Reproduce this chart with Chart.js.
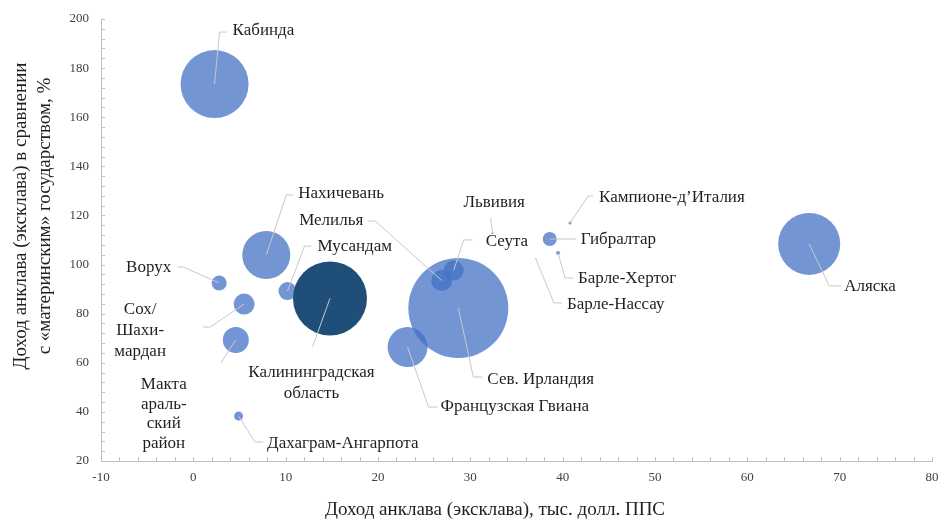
<html>
<head>
  <meta charset="utf-8">
  <title>Доход анклавов</title>
  <script src="https://cdn.jsdelivr.net/npm/chart.js@4.4.1/dist/chart.umd.min.js"></script>
  <style>
    body { margin: 0; background: #fff; }
    #chart { display: block; }
  </style>
</head>
<body>
  <canvas id="chart" width="940" height="521"></canvas>
  <script>
    // data
    const names = ["Кабинда", "Нахичевань", "Ворух", "Сох/Шахимардан", "Мактааральский район", "Мусандам",
      "Калининградская область", "Сев. Ирландия", "Мелилья", "Сеута", "Французская Гвиана", "Гибралтар",
      "Кампионе-д’Италия", "Барле-Хертог", "Барле-Нассау", "Львивия", "Аляска", "Дахаграм-Ангарпота"];
    const income = [2.3, 7.9, 2.8, 5.5, 4.6, 10.2, 14.8, 28.7, 26.9, 28.2, 23.2, 38.6, 40.8, 39.5, 37.1, 32.4, 66.7, 4.9];
    const ratio = [173.5, 103.9, 92.5, 83.9, 69.3, 89.2, 86.2, 82.3, 93.5, 97.6, 66.4, 110.4, 116.9, 104.7, 102.3, 112.9, 108.4, 38.3];
    const bubbleR = [34, 24, 7.5, 10.5, 13, 9, 37, 50, 10.5, 10, 20, 7, 1.5, 2, 0.6, 1, 31, 4.5];
    const xTicks = [-10, 0, 10, 20, 30, 40, 50, 60, 70, 80];
    const yTicks = [20, 40, 60, 80, 100, 120, 140, 160, 180, 200];

    // label layout (pixels from bubble centre): text lines, align, text x/y, leader elbow, leader end x
    const labelText = [["Кабинда"], ["Нахичевань"], ["Ворух"], ["Сох/", "Шахи-", "мардан"], ["Макта", "араль-", "ский", "район"],
      ["Мусандам"], ["Калининградская", "область"], ["Сев. Ирландия"], ["Мелилья"], ["Сеута"], ["Французская Гвиана"],
      ["Гибралтар"], ["Кампионе-д’Италия"], ["Барле-Хертог"], ["Барле-Нассау"], ["Львивия"], ["Аляска"], ["Дахаграм-Ангарпота"]];
    const labelAlign = ["left", "left", "right", "center", "center", "left", "center", "left", "right", "left", "left",
      "left", "left", "left", "left", "left", "left", "left"];
    const labelPos = [[18, -54], [32, -61], [-48, -15], [-104, 5], [-72, 45], [30, -45], [-18.5, 74.5], [29, 72], [-78.5, -59.5],
      [32, -28.5], [33, 59], [31, 1], [29, -26], [20, 26], [31, 46], [-29, -30], [35, 43], [28.5, 27]];
    const elbow = [[5, -52], [20, -60], [-36, -16], [-34, 23], [-15, 23], [17, -45], [-17.5, 48.5], [15, 69], [-66.5, -59.5],
      [10, -30.5], [21, 60], [0, 0], [18, -27], [7, 25], [18, 44], [-2, -15], [20, 42], [16.5, 26]];
    const leaderEnd = [12, 27, -42, -41, -15, 24, -17.5, 24, -73.5, 19, 30, 26, 23, 15, 26, -2, 32, 24.5];

    const lightBlue = "rgba(68, 114, 196, 0.75)";
    const darkBlue = "rgb(31, 78, 121)";
    const serif = "'Liberation Serif', 'DejaVu Serif', serif";

    const points = income.map((x, i) => ({ x: x, y: ratio[i], r: bubbleR[i] }));
    const colors = names.map(n => n === "Калининградская область" ? darkBlue : lightBlue);

    // leader lines, labels, minor ticks, axis titles
    const annotate = {
      id: "annotate",
      afterDatasetsDraw(chart) {
        const ctx = chart.ctx;
        const xs = chart.scales.x, ys = chart.scales.y;
        ctx.save();
        ctx.strokeStyle = "#C8C8C8";
        ctx.lineWidth = 1;
        for (let i = 0; i < points.length; i++) {
          const px = xs.getPixelForValue(points[i].x);
          const py = ys.getPixelForValue(points[i].y);
          ctx.beginPath();
          ctx.moveTo(px, py);
          ctx.lineTo(px + elbow[i][0], py + elbow[i][1]);
          ctx.lineTo(px + leaderEnd[i], py + elbow[i][1]);
          ctx.stroke();
        }
        ctx.fillStyle = "#1f1f1f";
        ctx.font = "17px " + serif;
        ctx.textBaseline = "middle";
        for (let i = 0; i < points.length; i++) {
          const px = xs.getPixelForValue(points[i].x);
          const py = ys.getPixelForValue(points[i].y);
          ctx.textAlign = labelAlign[i];
          const lh = labelText[i].length > 3 ? 19.5 : 21;
          labelText[i].forEach((t, k) => {
            ctx.fillText(t, px + labelPos[i][0], py + labelPos[i][1] + k * lh);
          });
        }
        ctx.restore();
      },
      afterDraw(chart) {
        const ctx = chart.ctx;
        const xs = chart.scales.x, ys = chart.scales.y;
        const a = chart.chartArea;
        ctx.save();
        ctx.strokeStyle = "#BFBFBF";
        ctx.lineWidth = 1;
        ctx.beginPath();
        for (let v = 20; v <= 200; v += 4) {
          const y = Math.round(ys.getPixelForValue(v)) + 0.5;
          ctx.moveTo(a.left, y);
          ctx.lineTo(a.left + 4, y);
        }
        for (let v = -10; v <= 80; v += 2) {
          const x = Math.round(xs.getPixelForValue(v)) + 0.5;
          ctx.moveTo(x, a.bottom);
          ctx.lineTo(x, a.bottom - 4);
        }
        ctx.stroke();

        ctx.fillStyle = "#1f1f1f";
        ctx.font = "19px " + serif;
        ctx.textAlign = "center";
        ctx.textBaseline = "middle";
        ctx.fillText("Доход анклава (эксклава), тыс. долл. ППС", 495, 510);
        ctx.translate(33, 216);
        ctx.rotate(-Math.PI / 2);
        ctx.fillText("Доход анклава (эксклава) в сравнении", 0, -12);
        ctx.fillText("с «материнским» государством, %", 0, 12);
        ctx.restore();
      }
    };

    new Chart(document.getElementById("chart").getContext("2d"), {
      type: "bubble",
      data: {
        datasets: [{
          label: "Анклавы",
          data: points,
          backgroundColor: colors,
          borderWidth: 0,
          hoverBorderWidth: 0
        }]
      },
      options: {
        responsive: false,
        animation: false,
        devicePixelRatio: 1,
        layout: { autoPadding: false, padding: { top: 19, right: 8, left: 0, bottom: 0 } },
        plugins: { legend: { display: false }, tooltip: { enabled: false } },
        scales: {
          x: {
            type: "linear",
            min: -10, max: 80,
            afterBuildTicks: s => { s.ticks = xTicks.map(v => ({ value: v })); },
            afterFit: s => { s.height = 60; s.paddingLeft = 0; s.paddingRight = 0; },
            grid: { display: false, drawTicks: false },
            border: { display: true, color: "#BFBFBF" },
            ticks: { padding: 9, color: "#404040", font: { family: serif, size: 13 } }
          },
          y: {
            type: "linear",
            min: 20, max: 200,
            afterBuildTicks: s => { s.ticks = yTicks.map(v => ({ value: v })); },
            afterFit: s => { s.width = 101; s.paddingTop = 0; s.paddingBottom = 0; },
            grid: { display: false, drawTicks: false },
            border: { display: true, color: "#BFBFBF" },
            ticks: { padding: 12, color: "#404040", font: { family: serif, size: 13 } }
          }
        }
      },
      plugins: [annotate]
    });
  </script>
</body>
</html>
